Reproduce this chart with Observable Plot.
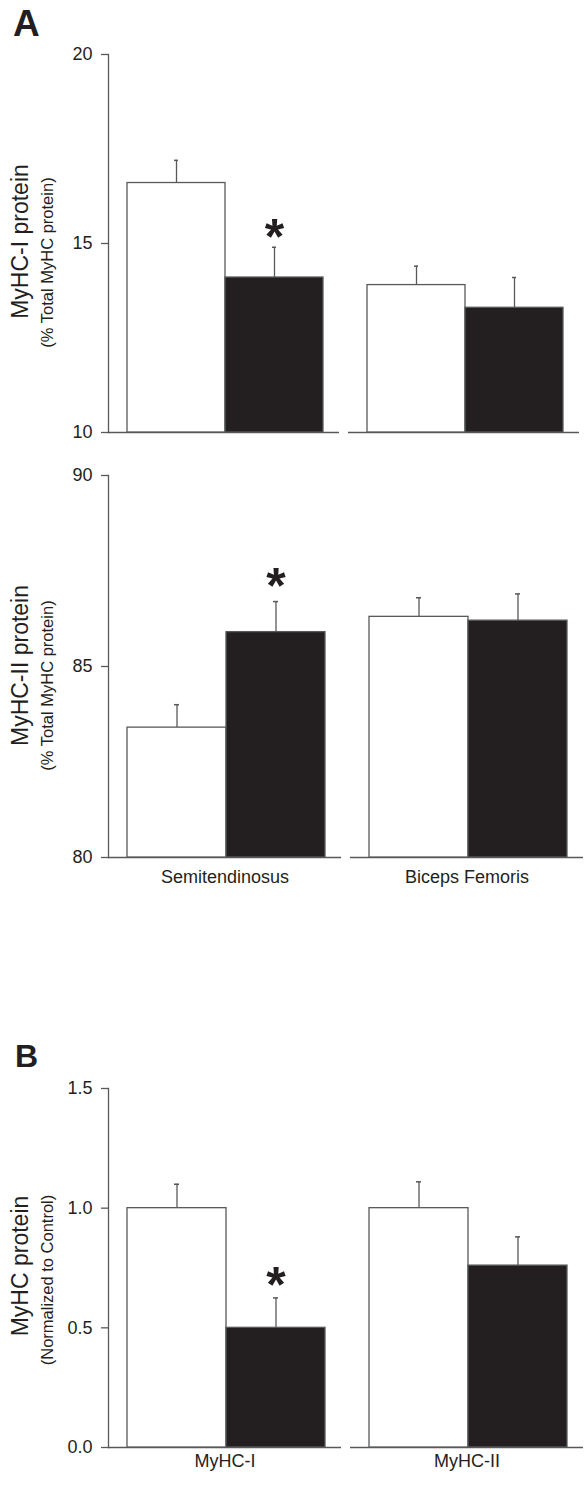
<!DOCTYPE html>
<html>
<head>
<meta charset="utf-8">
<script src="https://cdn.jsdelivr.net/npm/d3@7"></script>
<script src="https://cdn.jsdelivr.net/npm/@observablehq/plot@0.6"></script>
<style>
  body { margin: 0; background: #fff; }
  #fig { position: relative; width: 584px; height: 1490px; font-family: "Liberation Sans", Arial, sans-serif; color: #231f20; }
  .letter { position: absolute; font-weight: bold; line-height: 1; }
  #fig svg { position: absolute; left: 0; }
</style>
</head>
<body>
<div id="fig"></div>
<script>
// ---- data ----
const conditions = ["Control", "Treatment"];

const musclesA = ["Semitendinosus", "Biceps Femoris"];
const myhcI_mean = [16.6, 14.1, 13.9, 13.3];
const myhcI_se   = [0.6, 0.8, 0.5, 0.8];
const myhcI_sig  = [false, true, false, false];
const myhcI_ticks = [10, 15, 20];

const myhcII_mean = [83.4, 85.9, 86.3, 86.2];
const myhcII_se   = [0.6, 0.8, 0.5, 0.7];
const myhcII_sig  = [false, true, false, false];
const myhcII_ticks = [80, 85, 90];

const isoformsB = ["MyHC-I", "MyHC-II"];
const norm_mean = [1.0, 0.5, 1.0, 0.76];
const norm_se   = [0.10, 0.125, 0.11, 0.12];
const norm_sig  = [false, true, false, false];
const norm_ticks = [0, 0.5, 1.0, 1.5];

// ---- styling ----
const ink = "#231f20";
const gray = "#58595b";
const fontFamily = "'Liberation Sans', Arial, sans-serif";

function rowsOf(groups, mean, se, sig) {
  return mean.map((m, i) => ({
    group: groups[Math.floor(i / 2)],
    cond: conditions[i % 2],
    mean: m, se: se[i], sig: sig[i]
  }));
}

function panel(o) {
  const rows = rowsOf(o.groups, o.mean, o.se, o.sig);
  const lo = o.ticks[0], hi = o.ticks[o.ticks.length - 1];
  const marks = [
    Plot.frame({anchor: "left", facetAnchor: "left", stroke: gray, strokeWidth: 1.3}),
    Plot.ruleY([lo], {stroke: gray, strokeWidth: 1.3}),
    Plot.barY(rows, {fx: "group", x: "cond", y1: () => lo, y2: "mean", fill: "cond", stroke: gray, strokeWidth: 1.3}),
    Plot.ruleX(rows, {fx: "group", x: "cond", y1: "mean", y2: d => d.mean + d.se, stroke: gray, strokeWidth: 1.3}),
    Plot.tickY(rows, {fx: "group", x: "cond", y: d => d.mean + d.se, stroke: gray, strokeWidth: 1.5, insetLeft: 47, insetRight: 47}),
    Plot.text(rows.filter(d => d.sig), {fx: "group", x: "cond", y: d => d.mean + d.se, text: () => "*",
      fontSize: 50, fontWeight: "bold", fill: ink, lineAnchor: "middle", dy: o.starDy}),
    Plot.axisY({ticks: o.ticks, tickFormat: o.tickFormat, tickSize: 7, tickPadding: 9,
      stroke: gray, strokeWidth: 1.3, fill: ink, fontSize: 18, label: null}),
    Plot.text([o.title], {fx: () => o.groups[0], frameAnchor: "left", textAnchor: "middle", dx: -88, dy: o.titleDy, rotate: -90,
      fontSize: 23, fill: ink, text: d => d}),
    Plot.text([o.subtitle], {fx: () => o.groups[0], frameAnchor: "left", textAnchor: "middle", dx: -61, dy: o.subDy, rotate: -90,
      fontSize: 16.5, fill: ink, text: d => d})
  ];
  if (o.showFx) {
    marks.push(Plot.axisFx({anchor: "bottom", tickSize: 0, tickPadding: o.fxPad, fontSize: 18, fill: ink, label: null}));
  }
  const svg = Plot.plot({
    width: 584,
    height: o.height,
    marginTop: o.marginTop,
    marginBottom: o.marginBottom,
    marginLeft: 108,
    marginRight: o.marginRight,
    style: {fontFamily, fontSize: "18px", color: ink, background: "transparent", overflow: "visible"},
    x: {domain: conditions, paddingInner: 0, paddingOuter: 0.17, align: 0.55, axis: null},
    fx: {domain: o.groups, paddingInner: 0.037, paddingOuter: 0, ...(o.showFx ? {} : {axis: null})},
    y: {domain: [lo, hi]},
    color: {domain: conditions, range: ["#ffffff", ink]},
    marks
  });
  svg.style.top = o.top + "px";
  return svg;
}

const fig = document.getElementById("fig");

fig.appendChild(panel({
  groups: musclesA, mean: myhcI_mean, se: myhcI_se, sig: myhcI_sig, ticks: myhcI_ticks,
  tickFormat: d => d.toString(), title: "MyHC-I protein", subtitle: "(% Total MyHC protein)",
  top: 0, height: 445, marginTop: 54, marginBottom: 13, marginRight: 4, showFx: false, starDy: -9,
  titleDy: -2, subDy: 19
}));

fig.appendChild(panel({
  groups: musclesA, mean: myhcII_mean, se: myhcII_se, sig: myhcII_sig, ticks: myhcII_ticks,
  tickFormat: d => d.toString(), title: "MyHC-II protein", subtitle: "(% Total MyHC protein)",
  top: 445, height: 450, marginTop: 30, marginBottom: 38, marginRight: 0, showFx: true, fxPad: 13, starDy: -15,
  titleDy: -1, subDy: 19
}));

fig.appendChild(panel({
  groups: isoformsB, mean: norm_mean, se: norm_se, sig: norm_sig, ticks: norm_ticks,
  tickFormat: d3.format(".1f"), title: "MyHC protein", subtitle: "(Normalized to Control)",
  top: 1000, height: 490, marginTop: 88, marginBottom: 43, marginRight: 0, showFx: true, fxPad: 7, starDy: -12,
  titleDy: -2, subDy: 12
}));

const la = document.createElement("div");
la.className = "letter"; la.textContent = "A";
la.style.cssText = "left:13px;top:5px;font-size:37px;";
fig.appendChild(la);
const lb = document.createElement("div");
lb.className = "letter"; lb.textContent = "B";
lb.style.cssText = "left:15px;top:1040px;font-size:32px;";
fig.appendChild(lb);
</script>
</body>
</html>
